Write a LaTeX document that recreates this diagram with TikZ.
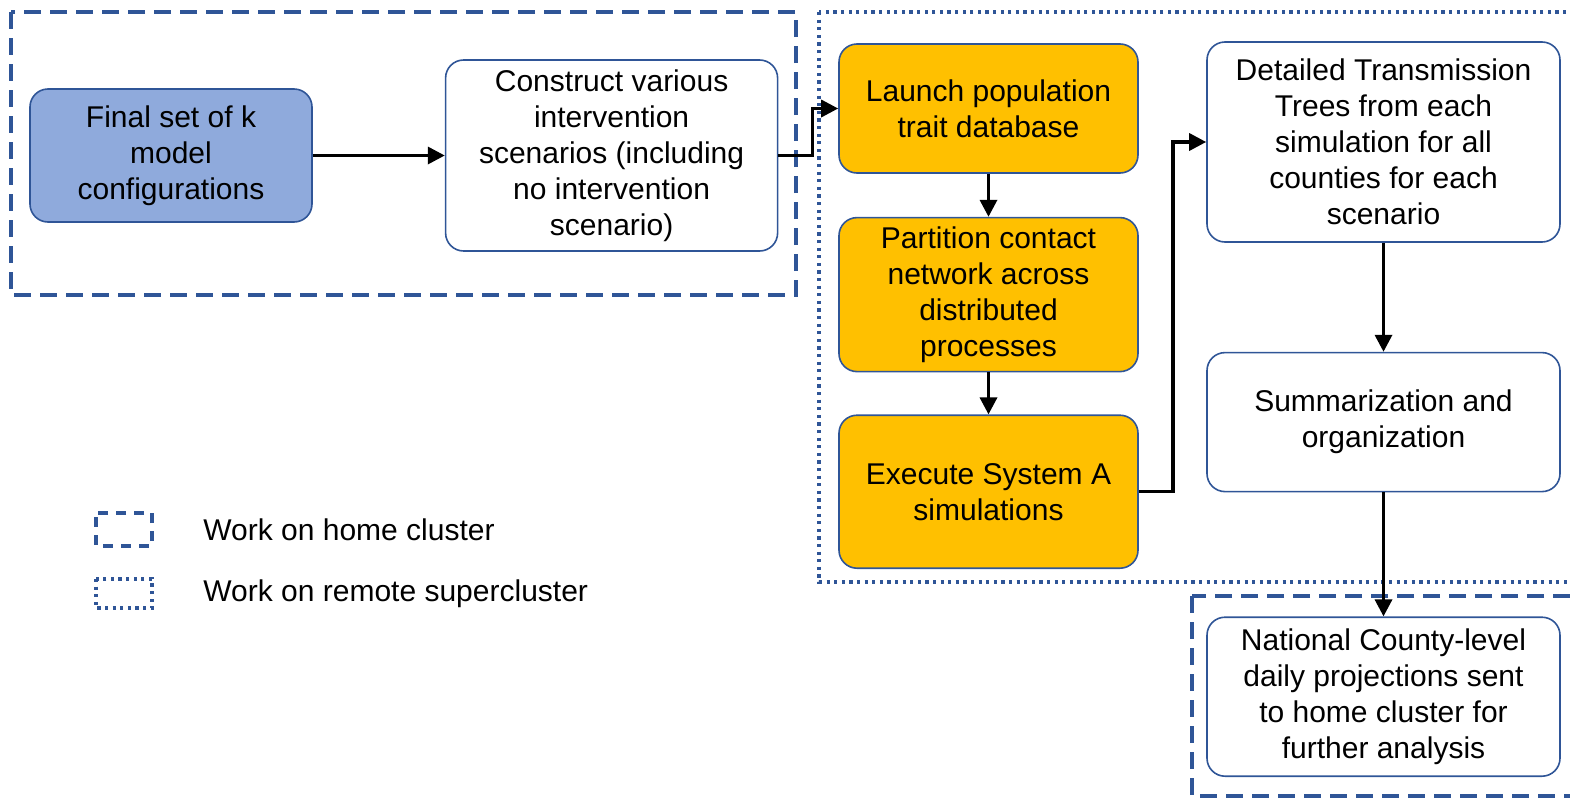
\documentclass[tikz,border=0pt]{standalone}
\usepackage{fontspec}
\setmainfont{Liberation Sans}
\usetikzlibrary{positioning}
\usetikzlibrary{arrows.meta}
\tikzset{>={Triangle[width=8.5pt,length=8.5pt]}}
\definecolor{boxblue}{HTML}{8FAADC}
\definecolor{edgeblue}{HTML}{2F5597}
\definecolor{steporange}{HTML}{FFC000}

\begin{document}
\begin{tikzpicture}[box/.style={rectangle, rounded corners=9pt, draw=edgeblue, line width=0.8pt, fill=white, align=center, inner sep=0pt, font=\fontsize{15}{18}\selectfont}, bluebox/.style={box, fill=boxblue}, orangebox/.style={box, fill=steporange}, homeframe/.style={draw=edgeblue, line width=1.8pt, dash pattern=on 8.5pt off 4.5pt}, remoteframe/.style={draw=edgeblue, line width=1.6pt, dash pattern=on 1.6pt off 2.2pt}, legendtext/.style={anchor=west, inner sep=0pt, font=\fontsize{15}{18}\selectfont}, flow/.style={->, line width=1.7pt}]

    \useasboundingbox (0,0) rectangle (785pt,-399pt);

    %Frames
    \draw[homeframe] (5.5pt,-6pt) rectangle (398pt,-147.5pt);
    \draw[remoteframe] (409.5pt,-6pt) rectangle (792pt,-291pt);
    \draw[homeframe] (596pt,-298pt) rectangle (792pt,-398pt);

    %Legend
    \draw[homeframe, dash pattern=on 5pt off 4pt, dash phase=-2pt] (48pt,-256.5pt) rectangle (76pt,-273pt);
    \draw[remoteframe] (48pt,-289.5pt) rectangle (76pt,-304pt);
    \node[legendtext](home_text) at (101.5pt,-265pt){Work on home cluster};
    \node[legendtext](remote_text) at (101.5pt,-297pt){Work on remote supercluster};

    %Nodes
    \node[bluebox, minimum width=141pt, minimum height=66.5pt](final) at (85.5pt,-77.75pt){Final set of k\\model\\configurations};
    \node[box, minimum width=166pt, minimum height=95.5pt](construct)[right=66pt of final]{Construct various\\intervention\\scenarios (including\\no intervention\\scenario)};
    \node[orangebox, minimum width=149.5pt, minimum height=64.5pt](launch) at (494.25pt,-54.25pt){Launch population\\trait database};
    \node[orangebox, minimum width=149.5pt, minimum height=77pt](partition)[below=21.5pt of launch]{Partition contact\\network across\\distributed\\processes};
    \node[orangebox, minimum width=149.5pt, minimum height=76.5pt](execute)[below=21pt of partition]{Execute System A\\simulations};
    \node[box, minimum width=176.5pt, minimum height=100pt](detailed) at (691.75pt,-71pt){Detailed Transmission\\Trees from each\\simulation for all\\counties for each\\scenario};
    \node[box, minimum width=176.5pt, minimum height=69.5pt](summary)[below=54.5pt of detailed]{Summarization and\\organization};
    \node[box, minimum width=176.5pt, minimum height=79.5pt](national)[below=62pt of summary]{National County-level\\daily projections sent\\to home cluster for\\further analysis};

    %Lines
    \draw[flow] (final.east) -- (construct.west);
    \draw[flow] (construct.east) -- ++(17pt,0) |- (launch.west);
    \draw[flow] (launch.south) -- (partition.north);
    \draw[flow] (partition.south) -- (execute.north);
    \draw[flow] (execute.east) -- ++(17pt,0) |- (detailed.west);
    \draw[flow] (detailed.south) -- (summary.north);
    \draw[flow] (summary.south) -- (national.north);

\end{tikzpicture}
\end{document}
